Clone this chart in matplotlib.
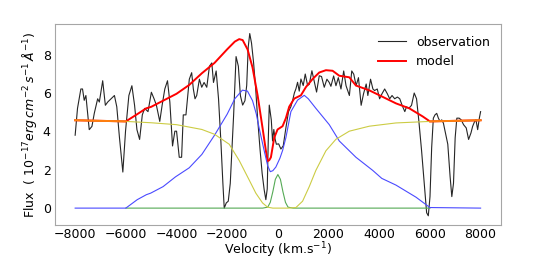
import matplotlib
matplotlib.use("Agg")
import matplotlib.pyplot as plt
import numpy as np

# observed spectrum (velocity in km/s, flux in 1e-17 erg/cm2/s/A)
obs_v = [-8000, -7907, -7775, -7709, -7642, -7576, -7444, -7338, -7245, -7112,
         -7046, -6913, -6808, -6715, -6582, -6450, -6357, -6251, -6118, -6012,
         -5880, -5761, -5655, -5562, -5456, -5350, -5257, -5125, -4992, -4886,
         -4793, -4661, -4568, -4462, -4356, -4263, -4157, -4065, -3998, -3892,
         -3799, -3733, -3628, -3495, -3402, -3336, -3270, -3203, -3097, -3005,
         -2912, -2806, -2700, -2607, -2541, -2435, -2342, -2250, -2170, -2117,
         -2037, -1958, -1879, -1746, -1650, -1560, -1480, -1390, -1300, -1230,
         -1170, -1110, -1040, -960, -880, -800, -700, -620, -540, -475,
         -420, -380, -340, -300, -260, -210, -160, -110, -60, 30,
         120, 212, 316, 420, 514, 580, 650, 712, 777, 843,
         909, 1000, 1080, 1172, 1238, 1343, 1435, 1527, 1633, 1722,
         1830, 1935, 2027, 2093, 2200, 2292, 2385, 2490, 2597, 2690,
         2822, 2915, 2995, 3087, 3180, 3286, 3380, 3485, 3550, 3657,
         3750, 3816, 3922, 4015, 4108, 4214, 4320, 4412, 4505, 4610,
         4717, 4810, 4902, 5009, 5075, 5168, 5274, 5380, 5472, 5565,
         5671, 5777, 5870, 5936, 6003, 6069, 6135, 6200, 6268, 6334,
         6400, 6466, 6532, 6625, 6705, 6797, 6864, 6930, 6996, 7062,
         7155, 7235, 7327, 7433, 7526, 7620, 7685, 7765, 7817, 7884,
         7950, 8000]
obs_f = [3.80, 5.20, 6.21, 6.21, 5.62, 5.87, 4.09, 4.26, 4.94, 5.70,
         5.53, 6.64, 5.36, 5.53, 5.70, 5.87, 5.28, 3.67, 1.88, 4.01,
         5.87, 6.38, 5.36, 4.09, 3.58, 4.86, 5.20, 5.03, 6.04, 5.70,
         5.36, 4.52, 5.36, 6.21, 6.64, 5.53, 3.24, 4.01, 4.01, 2.65,
         2.65, 4.86, 4.86, 6.72, 7.06, 6.21, 5.70, 5.87, 6.72, 6.30,
         6.55, 6.30, 7.40, 7.57, 6.55, 7.15, 5.70, 3.50, 1.29, 0.00,
         0.27, 0.36, 1.29, 4.86, 7.90, 7.40, 5.87, 5.37, 5.60, 6.40,
         8.40, 9.10, 8.60, 7.60, 6.30, 4.69, 3.00, 1.80, 0.95, 0.44,
         1.00, 3.50, 5.37, 5.00, 4.60, 3.50, 4.10, 3.60, 3.33, 3.35,
         3.08, 3.25, 4.18, 5.03, 5.29, 5.60, 6.00, 6.22, 6.56, 6.10,
         6.73, 6.39, 6.99, 6.40, 6.45, 7.16, 6.60, 6.05, 6.90, 6.86,
         6.30, 6.72, 6.55, 6.35, 6.89, 6.38, 6.80, 6.21, 7.15, 6.38,
         5.87, 7.15, 6.98, 6.38, 6.80, 5.36, 5.96, 6.47, 5.87, 6.72,
         6.21, 6.13, 6.21, 5.70, 5.96, 6.21, 5.96, 5.70, 5.87, 5.70,
         5.79, 5.70, 5.36, 5.03, 5.28, 5.20, 5.36, 6.00, 5.70, 4.52,
         2.99, 1.29, -0.24, -0.40, 0.60, 3.16, 4.69, 4.86, 4.94, 4.69,
         4.52, 4.60, 4.43, 3.84, 3.33, 1.63, 0.60, 1.29, 3.67, 4.69,
         4.69, 4.60, 4.35, 4.18, 3.58, 3.92, 4.26, 4.52, 4.60, 4.09,
         4.69, 5.03]

# total model
model_v = [-8000, -6000, -5500, -5200, -5000, -4500, -4000, -3500, -3000, -2500,
           -2000, -1700, -1525, -1390, -1195, -1000, -800, -605, -473, -407,
           -340, -275, -144, -12, 185, 316, 448, 646, 909, 1107,
           1370, 1633, 1896, 2160, 2423, 2818, 3081, 3607, 4134, 4660,
           5187, 5713, 6000, 8000]
model_f = [4.58, 4.52, 4.94, 5.20, 5.28, 5.62, 5.96, 6.42, 7.03, 7.57,
           8.28, 8.68, 8.81, 8.76, 8.27, 7.33, 5.88, 4.18, 2.99, 2.45,
           2.50, 2.65, 3.67, 4.10, 4.27, 4.69, 5.29, 5.71, 5.88, 6.31,
           6.73, 7.07, 7.19, 7.16, 6.90, 6.82, 6.39, 6.14, 5.80, 5.46,
           5.20, 4.78, 4.52, 4.58]

# broad emission component
broad_v = [-8000, -6000, -5550, -5190, -5020, -4530, -4040, -3500, -3000, -2500,
           -2000, -1700, -1400, -1200, -1000, -850, -740, -540, -400, -300,
           -200, -80, 80, 185, 316, 514, 777, 1041, 1200, 1500,
           2028, 2423, 3081, 3739, 4100, 4660, 5450, 6000, 8000]
broad_f = [0.0, 0.0, 0.44, 0.70, 0.78, 1.12, 1.63, 2.10, 2.80, 3.80,
           4.90, 5.70, 6.15, 6.10, 5.60, 4.90, 4.18, 2.99, 2.20, 1.90,
           1.95, 2.14, 2.60, 3.00, 3.67, 5.03, 5.63, 5.88, 5.70, 5.20,
           4.35, 3.50, 2.65, 1.97, 1.55, 1.20, 0.57, 0.03, 0.0]

# absorbed continuum component
cont_v = [-8000, -6000, -5000, -4000, -3000, -2500, -1920, -1525, -1130, -870,
          -605, -407, -200, 54, 400, 712, 975, 1238, 1500, 1896,
          2291, 2818, 3607, 4660, 6000, 8000]
cont_f = [4.58, 4.52, 4.45, 4.35, 4.10, 3.85, 3.33, 2.48, 1.46, 0.78,
          0.27, 0.05, 0.0, 0.0, 0.0, 0.03, 0.36, 1.12, 1.97, 2.99,
          3.59, 4.01, 4.27, 4.44, 4.52, 4.58]

# narrow emission component
narrow_v = [-6000, -600, -400, -300, -200, -100, 0, 100, 200, 300, 400, 600, 6000]
narrow_f = [0.0, 0.0, 0.05, 0.30, 0.85, 1.50, 1.75, 1.50, 0.85, 0.30, 0.05, 0.0, 0.0]


def main():
    plt.rcParams["font.size"] = 9
    fig = plt.figure(figsize=(5.38, 2.6), dpi=100)
    ax = fig.add_axes([0.102, 0.135, 0.829, 0.771])

    ax.plot(obs_v, obs_f, color="0.15", lw=0.8, label="observation")
    ax.plot(model_v, model_f, color="red", lw=1.4, label="model")
    ax.plot(narrow_v, narrow_f, color="#55aa55", lw=0.8)
    ax.plot(broad_v, broad_f, color="#4a4aff", lw=0.8)
    ax.plot(cont_v, cont_f, color="#cccc44", lw=0.8)

    # continuum outside the fitted window
    mv = np.array(model_v)
    mf = np.array(model_f)
    left = mv <= -6000
    right = mv >= 6000
    ax.plot(mv[left], mf[left], color="C1", lw=1.4)
    ax.plot(mv[right], mf[right], color="C1", lw=1.4)

    ax.set_xticks(np.arange(-8000, 8001, 2000))
    ax.set_yticks([0, 2, 4, 6, 8])
    ax.tick_params(length=0, pad=3)
    ax.tick_params(axis="x", pad=2)
    for sp in ax.spines.values():
        sp.set_color("0.65")
    ax.set_xlabel(r"Velocity (km.s$^{-1}$)", labelpad=0)
    ax.set_ylabel(r"Flux  ( $10^{-17} erg\, cm^{-2}\, s^{-1}\, \AA^{-1}$)", labelpad=3)
    ax.legend(loc="upper right", frameon=False, handlelength=2.2)

    fig.savefig("out.png", dpi=100)


if __name__ == "__main__":
    main()
